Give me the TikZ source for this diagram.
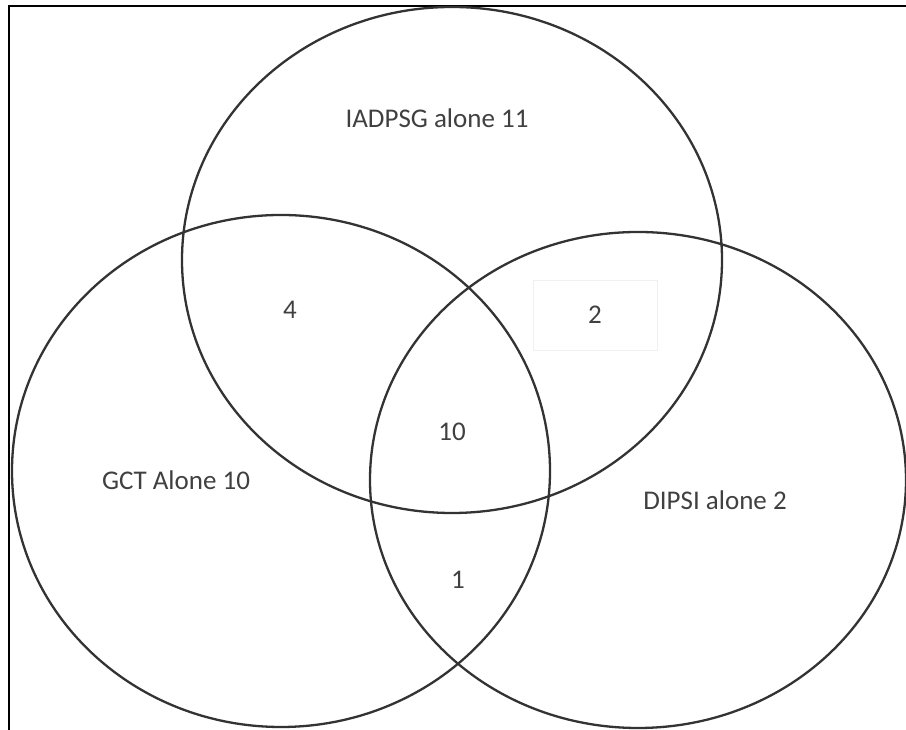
\documentclass[tikz,border=0pt]{standalone}
\usepackage{fontspec}
\setmainfont{Carlito}
\tikzset{
  setline/.style={line width=2.3pt, draw=black!80},
  lbl/.style={font=\fontsize{27}{31}\selectfont, text=black!75, inner sep=0pt},
}
\begin{document}
\begin{tikzpicture}[x=1pt, y=1pt]
    \useasboundingbox (0,0) rectangle (906,730);
    % frame, top and left only
    \draw[line width=2.2pt] (9,0) -- (9,724) -- (906,724);
    % the three sets
    \coordinate (iadpsg) at (452,470);
    \coordinate (gct) at (281,259);
    \coordinate (dipsi) at (638,250);
    \draw[setline] (iadpsg) ellipse (270 and 253);
    \draw[setline] (gct) ellipse (269 and 256);
    \draw[setline] (dipsi) ellipse (268 and 248);
    % counts
    \node[lbl] (topalone) at (437,612) {IADPSG alone 11};
    \node[lbl] (leftalone) at (176,250) {GCT Alone 10};
    \node[lbl] (rightalone) at (715,230) {DIPSI alone 2};
    \node[lbl] (topleft) at (290,420) {4};
    \node[lbl, draw=black!6, line width=0.6pt, minimum width=124, minimum height=70] (topright) at (595,415) {2};
    \node[lbl] (middle) at (452,298) {10};
    \node[lbl] (bottom) at (458,150) {1};
\end{tikzpicture}
\end{document}
